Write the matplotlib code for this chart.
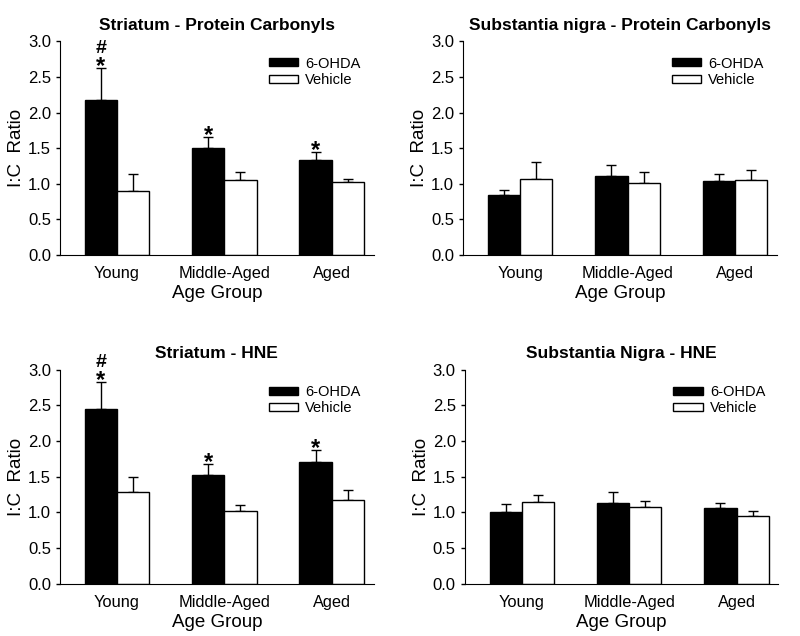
import numpy as np
import matplotlib.pyplot as plt
from matplotlib.ticker import FormatStrFormatter

plt.rcParams['font.family'] = ['Liberation Sans', 'DejaVu Sans']

groups = ["Young", "Middle-Aged", "Aged"]
series = ["6-OHDA", "Vehicle"]

titles = ["Striatum - Protein Carbonyls", "Substantia nigra - Protein Carbonyls",
          "Striatum - HNE", "Substantia Nigra - HNE"]

# mean values per panel
ohda = [[2.18, 1.50, 1.34], [0.84, 1.11, 1.04], [2.45, 1.53, 1.70], [1.00, 1.13, 1.06]]
vehicle = [[0.90, 1.05, 1.02], [1.07, 1.01, 1.06], [1.29, 1.02, 1.17], [1.15, 1.07, 0.95]]
# upper error (SEM)
ohda_err = [[0.44, 0.16, 0.10], [0.07, 0.15, 0.10], [0.37, 0.15, 0.17], [0.12, 0.16, 0.07]]
vehicle_err = [[0.24, 0.12, 0.05], [0.23, 0.15, 0.13], [0.21, 0.09, 0.15], [0.09, 0.09, 0.07]]
# significance marks over the 6-OHDA bars
stars = [[True, True, True], [False, False, False], [True, True, True], [False, False, False]]
hashes = [[True, False, False], [False, False, False], [True, False, False], [False, False, False]]

fig = plt.figure(figsize=(8, 6.36), dpi=100)
positions = [[0.075, 0.599, 0.392, 0.336], [0.579, 0.599, 0.392, 0.336],
             [0.075, 0.082, 0.392, 0.337], [0.581, 0.082, 0.392, 0.337]]

x = np.arange(len(groups))
w = 0.30
for i in range(4):
    ax = fig.add_axes(positions[i])
    ax.bar(x - w / 2, ohda[i], w, color="black", edgecolor="black", linewidth=1,
           label=series[0], zorder=2)
    ax.bar(x + w / 2, vehicle[i], w, color="white", edgecolor="black", linewidth=1,
           label=series[1], zorder=2)
    ax.errorbar(x - w / 2, ohda[i], yerr=[np.zeros(3), ohda_err[i]], fmt="none",
                ecolor="black", elinewidth=1, capsize=3.5, capthick=1, zorder=1)
    ax.errorbar(x + w / 2, vehicle[i], yerr=[np.zeros(3), vehicle_err[i]], fmt="none",
                ecolor="black", elinewidth=1, capsize=3.5, capthick=1, zorder=1)
    for j in range(3):
        top = ohda[i][j] + ohda_err[i][j]
        if stars[i][j]:
            ax.text(x[j] - w / 2, top - 0.07, "*", ha="center", va="baseline",
                    fontsize=17, fontweight="bold")
        if hashes[i][j]:
            ax.text(x[j] - w / 2, top + 0.21, "#", ha="center", va="baseline",
                    fontsize=14, fontweight="bold")

    ax.set_xlim(-0.53, 2.39)
    ax.set_ylim(0, 3.0)
    ax.set_yticks(np.arange(0, 3.01, 0.5))
    ax.yaxis.set_major_formatter(FormatStrFormatter("%.1f"))
    ax.set_xticks(x)
    ax.set_xticklabels(groups)
    ax.tick_params(axis="x", length=0, pad=8, labelsize=11.8)
    ax.tick_params(axis="y", length=3, width=1, labelsize=12)
    ax.spines["top"].set_visible(False)
    ax.spines["right"].set_visible(False)
    ax.set_xlabel("Age Group", fontsize=13.5, labelpad=3)
    ax.set_ylabel("I:C  Ratio", fontsize=13.5, labelpad=2)
    ax.set_title(titles[i], fontsize=12.5, fontweight="bold", pad=8)
    ax.legend(loc="upper right", bbox_to_anchor=(1.0, 0.99), frameon=False,
              fontsize=10.5, handlelength=2.0, handleheight=0.45,
              labelspacing=0.18, handletextpad=0.5)

plt.savefig("out.png", dpi=100)
